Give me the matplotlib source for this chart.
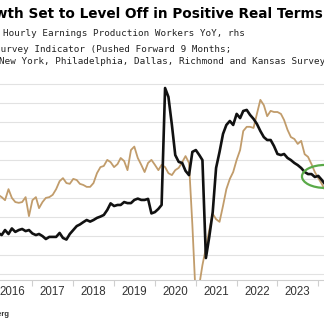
import matplotlib
matplotlib.use("Agg")
import matplotlib.pyplot as plt
import matplotlib.dates as mdates
from matplotlib.patches import Ellipse
import pandas as pd

# monthly observations, Mar 2016 - Mar 2024
months = pd.date_range("2016-03-01", "2024-03-01", freq="MS")

# average hourly earnings, production workers, YoY %  (rhs)
earnings_yoy = [
    2.51, 2.43, 2.62, 2.47, 2.68, 2.55, 2.62, 2.66, 2.58, 2.62,
    2.49, 2.43, 2.47, 2.39, 2.28, 2.36, 2.36, 2.36, 2.51, 2.32, 2.26, 2.47,
    2.62, 2.77, 2.83, 2.92, 3.00, 2.94, 3.00, 3.08, 3.13, 3.19, 3.38, 3.63,
    3.53, 3.57, 3.57, 3.68, 3.64, 3.64, 3.76, 3.81, 3.76, 3.76, 3.80, 3.25,
    3.30, 3.42, 3.57, 8.00, 7.66, 6.60, 5.46, 5.20, 5.16, 4.86, 4.70, 5.58,
    5.65, 5.46, 5.27, 1.56, 2.36, 3.30, 4.97, 5.58, 6.26, 6.60, 6.75, 6.60,
    7.02, 6.86, 7.13, 7.17, 6.98, 6.83, 6.64, 6.37, 6.14, 6.03, 6.03, 5.80,
    5.50, 5.46, 5.50, 5.35, 5.27, 5.16, 5.08, 4.97, 4.82, 4.74, 4.74, 4.63,
    4.67, 4.52, 4.36,
]

# regional Fed survey wage indicator, pushed forward 9 months
survey_index = [
    -4.3, -4.9, -5.7, -2.8, -5.1, -6.2, -6.4, -6.2, -4.9, -9.9,
    -5.7, -4.9, -7.8, -6.2, -5.1, -4.9, -4.3, -2.8, -0.7, 0.1, -1.2, -1.4,
    -0.1, -0.4, -1.4, -1.7, -2.2, -2.2, -1.2, 1.4, 3.0, 3.3, 4.9, 4.3,
    3.0, 3.8, 5.4, 4.6, 2.2, 7.5, 8.4, 5.4, 3.6, 1.7, 4.1, 4.9,
    3.6, 2.2, 3.6, 3.0, 1.4, 0.9, 2.2, 2.8, 4.3, 5.9, 4.1, -12.2,
    -32.0, -28.0, -22.8, -18.3, -13.6, -9.3, -10.7, -11.4, -7.2, -2.8, -0.1, 1.7,
    4.9, 7.5, 12.5, 13.6, 13.6, 13.3, 17.0, 20.7, 19.3, 16.4, 17.8, 17.5,
    17.5, 17.0, 15.4, 12.8, 10.9, 10.4, 9.1, 9.9, 6.4, 5.7, 3.8, 1.7,
    0.1, -1.4, -3.0,
]

survey_grid = [-25, -20, -15, -10, -5, 0, 5, 10, 15, 20, 25]

TAN = "#c19c6b"
INK = "#111111"

fig = plt.figure(figsize=(3.24, 3.24), dpi=100)
ax = fig.add_axes([0.0, 0.1373, 1.0, 0.6636])
ax2 = ax.twinx()

ax.plot(months, survey_index, color=TAN, lw=1.3, solid_joinstyle="round")
ax2.plot(months, earnings_yoy, color=INK, lw=1.9, solid_joinstyle="round")

ax.set_ylim(-26.58, 30.0)
ax2.set_ylim(0.746, 8.89)
ax.set_xlim(pd.Timestamp("2016-03-17"), pd.Timestamp("2024-02-21"))

ax.set_yticks(survey_grid)
ax.grid(axis="y", color="#e2e2e2", lw=0.8)
ax.set_axisbelow(True)
ax.tick_params(axis="y", left=False, labelleft=False)
ax2.tick_params(axis="y", right=False, labelright=False)

for a in (ax, ax2):
    for s in ("top", "left", "right"):
        a.spines[s].set_visible(False)
ax2.spines["bottom"].set_visible(False)
ax.spines["bottom"].set_color("#cfcfcf")
ax.spines["bottom"].set_linewidth(0.8)

# year boundaries as ticks, year names centred in between
ax.xaxis.set_major_locator(mdates.YearLocator())
ax.xaxis.set_major_formatter(plt.NullFormatter())
ax.xaxis.set_minor_locator(mdates.MonthLocator(bymonth=7))
ax.xaxis.set_minor_formatter(mdates.DateFormatter("%Y"))
ax.tick_params(axis="x", which="major", length=4, color="#cfcfcf", width=0.8)
ax.tick_params(axis="x", which="minor", length=0, pad=5,
               labelsize=8.3, labelcolor="#333333")
for lbl in ax.get_xticklabels(minor=True):
    lbl.set_fontfamily("Liberation Sans")

# highlight around the latest readings
ax2.add_patch(Ellipse((mdates.date2num(pd.Timestamp("2024-03-01")), 4.65),
                      width=412, height=0.87, fill=False,
                      edgecolor="#5aaa48", lw=1.6, clip_on=False, zorder=5))

fig.text(323 / 324, 1 - 18.3 / 324,
         "Wage Growth Set to Level Off in Positive Real Terms",
         ha="right", va="baseline", fontsize=9.85, fontweight="bold",
         family="DejaVu Sans", color="#000000")

mono = dict(family="DejaVu Sans Mono", fontsize=6.7, color="#222222",
            ha="left", va="baseline")
fig.text(3.3 / 324, 1 - 35.7 / 324,
         "Hourly Earnings Production Workers YoY, rhs", **mono)
fig.text(-4.6 / 324, 1 - 52.3 / 324,
         "Survey Indicator (Pushed Forward 9 Months;", **mono)
fig.text(-1.0 / 324, 1 - 64.0 / 324,
         "New York, Philadelphia, Dallas, Richmond and Kansas Survey)", **mono)

fig.text(8.5 / 324, 1 - 316 / 324, "Source: Bloomberg", ha="right",
         va="baseline", fontsize=5.5, fontweight="bold",
         family="Liberation Sans", color="#333333")

fig.savefig("out.png", dpi=100)
